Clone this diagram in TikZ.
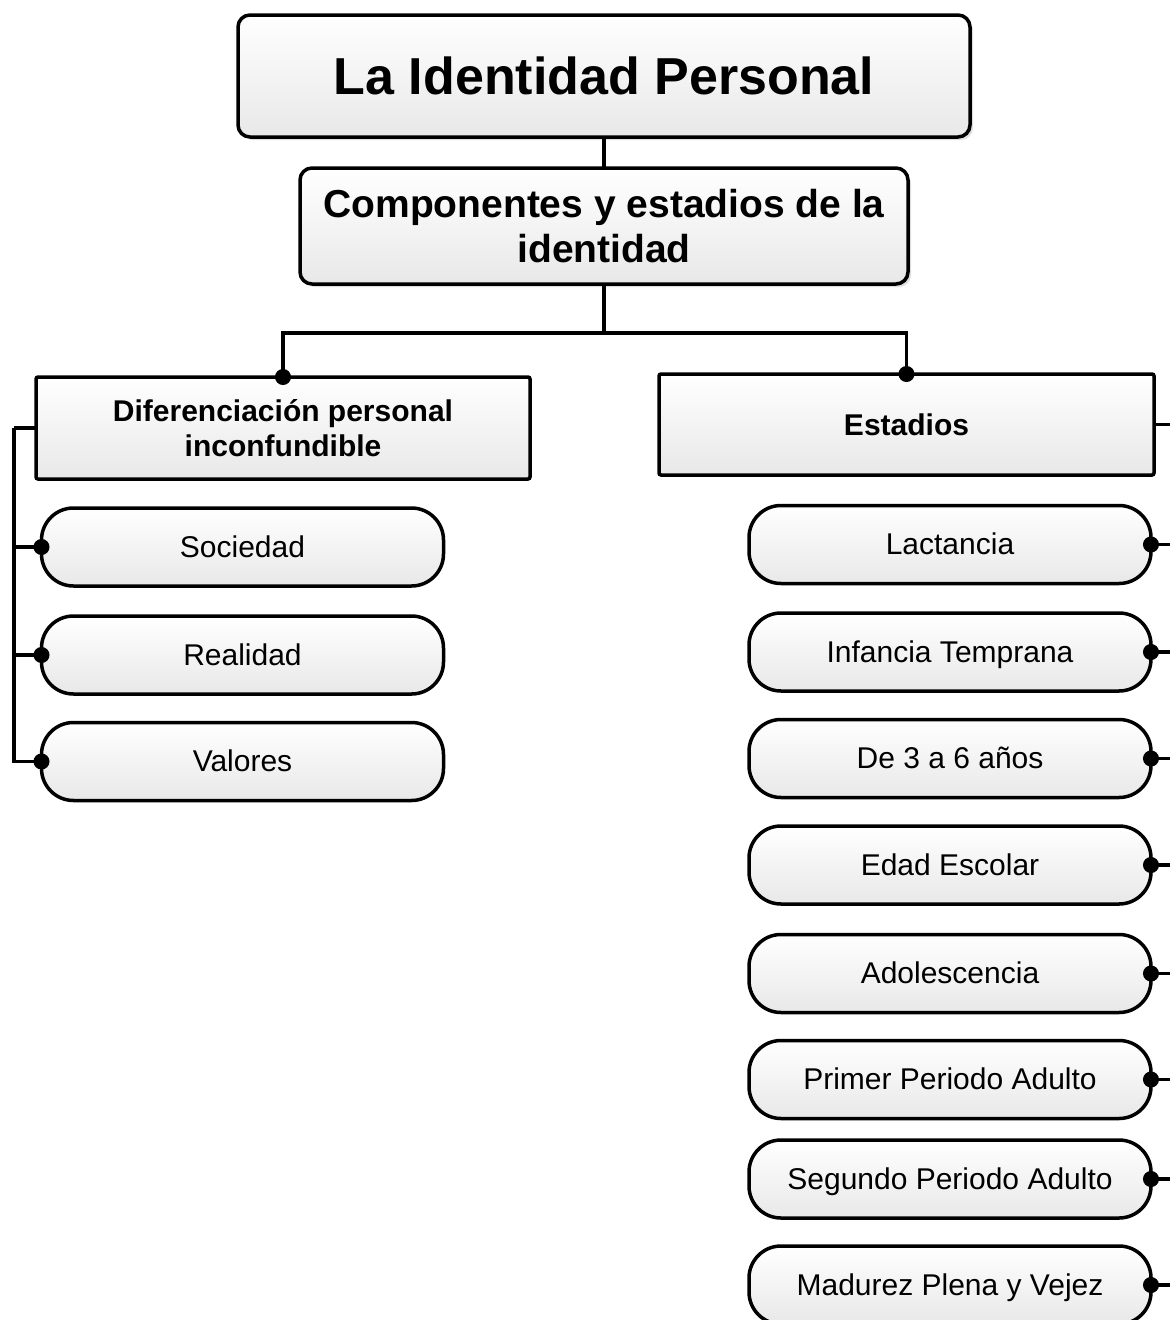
\documentclass[tikz,border=0pt]{standalone}
\usepackage{fontspec}
\setmainfont{Liberation Sans}
\usetikzlibrary{positioning,arrows.meta,shadows}

\begin{document}
\begin{tikzpicture}[x=1pt,y=-1pt,line width=3.5pt,
  box/.style={draw,top color=white,bottom color=black!9,inner sep=0pt,outer sep=0pt,align=center},
  shade/.style={drop shadow={shadow xshift=3pt,shadow yshift=-3pt,opacity=.25}},
  title/.style={box,shade,rounded corners=12pt,minimum width=732pt,minimum height=122pt,font=\fontsize{52}{60}\selectfont\bfseries},
  head/.style={box,shade,rounded corners=12pt,minimum width=608pt,minimum height=116pt,font=\fontsize{39}{45.5}\selectfont\bfseries},
  cat/.style={box,rounded corners=2pt,minimum width=494pt,minimum height=102pt,font=\fontsize{30}{35}\selectfont\bfseries},
  item/.style={box,rounded corners=32pt,minimum width=402pt,minimum height=78pt,text height=22pt,text depth=2pt,font=\fontsize{30}{36}\selectfont},
  dot/.style={-{Circle[length=16pt]},shorten >=-8pt}]

  \useasboundingbox (0,0) rectangle (1170,1320);

  \node[title] (id) at (604,76) {La Identidad Personal};
  \node[head,below=31pt of id] (comp) {Componentes y estadios de la\\identidad};

  \node[cat] (dif) at (283,428) {Diferenciación personal\\inconfundible};
  \node[cat,minimum width=495pt,minimum height=101pt] (est) at (906.5,424.5) {Estadios};

  \foreach \n/\t/\y in {soc/Sociedad/547,rea/Realidad/655,val/Valores/761.5}
    \node[item] (\n) at (242.5,\y) {\t};

  \foreach \n/\t/\y in {lac/Lactancia/544.5,inf/Infancia Temprana/652,tre/De 3 a 6 años/758.5,esc/Edad Escolar/865,ado/Adolescencia/973.5,pri/Primer Periodo Adulto/1079.5,seg/Segundo Periodo Adulto/1179,mad/Madurez Plena y Vejez/1285}
    \node[item] (\n) at (950,\y) {\t};

  \coordinate (split) at (604,333);
  \coordinate (lbus) at (14,426);
  \coordinate (rbus) at (1176,424);

  \draw (id) -- (comp);
  \draw[dot] (comp) -- (split) -| (dif.north);
  \draw[dot] (split) -| (est.north);

  \draw (dif.west) -- (dif.west -| lbus);
  \foreach \n in {soc,rea,val}
    \draw[dot] (dif.west -| lbus) |- (\n.west);

  \draw (est.east) -- (est.east -| rbus);
  \foreach \n in {lac,inf,tre,esc,ado,pri,seg,mad}
    \draw[dot] (\n.east -| rbus) -- (\n.east);

\end{tikzpicture}
\end{document}
